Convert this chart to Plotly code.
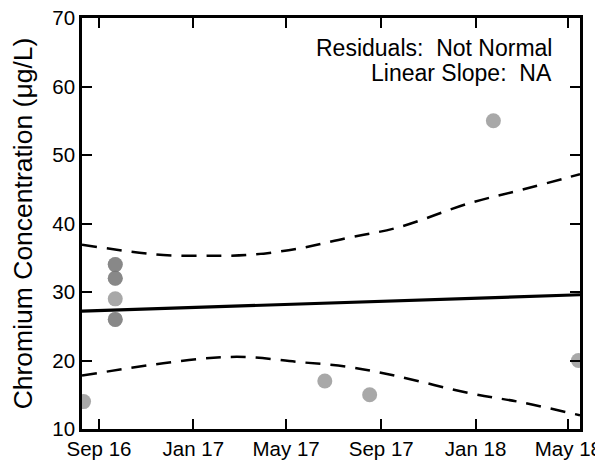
import plotly.graph_objects as go

# Observations
obs_dates = ["2016-08-12", "2016-09-22", "2016-09-22", "2016-09-22", "2016-09-22",
             "2016-09-22", "2016-09-22", "2016-09-22", "2017-06-20", "2017-08-17",
             "2018-01-24", "2018-05-14"]
obs_values = [14, 34, 34, 32, 32, 29, 26, 26, 17, 15, 55, 20]

# Trend line
trend_dates = ["2016-08-10", "2018-05-16"]
trend_values = [27.2, 29.6]

# Prediction band
band_dates = ["2016-08-10", "2016-11-23", "2017-01-27", "2017-03-12", "2017-05-15",
              "2017-07-19", "2017-09-22", "2017-12-25", "2018-03-01", "2018-05-16"]
upper_values = [36.9, 35.4, 35.3, 35.4, 36.3, 37.9, 39.4, 43.0, 44.9, 47.2]
lower_values = [17.8, 19.6, 20.4, 20.5, 19.8, 19.1, 17.7, 15.2, 13.9, 12.0]

tick_dates = ["2016-09-01", "2017-01-01", "2017-05-01", "2017-09-01", "2018-01-01", "2018-05-01"]
tick_labels = ["Sep 16", "Jan 17", "May 17", "Sep 17", "Jan 18", "May 18"]
y_ticks = [10, 20, 30, 40, 50, 60, 70]

FONT = "Liberation Sans, Arial, sans-serif"

fig = go.Figure()
fig.add_trace(go.Scatter(x=band_dates, y=upper_values, mode="lines",
                         line=dict(color="black", width=2.5, dash="15px,10px", shape="spline"),
                         showlegend=False, hoverinfo="skip"))
fig.add_trace(go.Scatter(x=band_dates, y=lower_values, mode="lines",
                         line=dict(color="black", width=2.5, dash="15px,10px", shape="spline"),
                         showlegend=False, hoverinfo="skip"))
fig.add_trace(go.Scatter(x=trend_dates, y=trend_values, mode="lines",
                         line=dict(color="black", width=3.2),
                         showlegend=False))
fig.add_trace(go.Scatter(x=obs_dates, y=obs_values, mode="markers",
                         marker=dict(color="rgba(117,117,117,0.63)", size=15, line=dict(width=0)),
                         showlegend=False))

fig.update_layout(
    width=595, height=453,
    margin=dict(l=74, r=23, t=10, b=32),
    plot_bgcolor="white", paper_bgcolor="white",
    font=dict(family=FONT, color="black", size=20),
    xaxis=dict(range=["2016-08-10", "2018-05-16"], tickvals=tick_dates, ticktext=tick_labels,
               showgrid=False, zeroline=False, showline=True, linecolor="black", linewidth=2.7,
               mirror="ticks", ticks="inside", ticklen=10, tickwidth=1.5, tickcolor="black",
               tickfont=dict(size=20.5), automargin=False, ticklabeloverflow="allow"),
    yaxis=dict(range=[10, 70], tickvals=y_ticks,
               showgrid=False, zeroline=False, showline=True, linecolor="black", linewidth=2.7,
               mirror="ticks", ticks="inside", ticklen=10, tickwidth=1.5, tickcolor="black",
               tickfont=dict(size=20.5), automargin=False, ticklabeloverflow="allow",
               title=dict(text="Chromium Concentration (μg/L)", font=dict(size=26.5), standoff=16)),
    annotations=[
        dict(xref="paper", yref="paper", x=0.947, y=0.927, xanchor="right", yanchor="middle",
             text="Residuals:  Not Normal", showarrow=False, font=dict(size=23)),
        dict(xref="paper", yref="paper", x=0.947, y=0.866, xanchor="right", yanchor="middle",
             text="Linear Slope:  NA", showarrow=False, font=dict(size=23)),
    ],
)

fig.write_html("out.html")
